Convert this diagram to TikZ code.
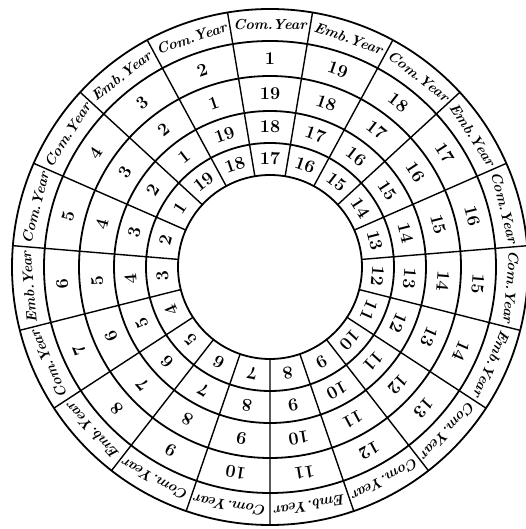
\documentclass[tikz,border=0pt]{standalone}
\usetikzlibrary{calc}

\begin{document}
\begin{tikzpicture}[
    x=1pt, y=1pt,
    ring/.style={line width=1.8pt},
    spoke/.style={line width=1.4pt},
    yearlabel/.style={font=\fontsize{14.5}{14.5}\selectfont\bfseries\itshape, inner sep=0pt},
    number/.style={font=\fontsize{18}{18}\selectfont\bfseries, inner sep=0pt}
]
\useasboundingbox (-270,-262) rectangle (256,267);
\coordinate (hub) at (0,0);
% circles of the wheel
\foreach \r in {92,124,156,191,226,258}
  \draw[ring] (hub) circle[radius=\r];
% nineteen spokes
\foreach \k in {0,...,18}
  \draw[spoke] ($(hub)+(99.47+\k*18.947:92)$) -- ($(hub)+(99.47+\k*18.947:258)$);
% years of the cycle and the four rings of numbers
\foreach \n/\kind in {1/Com,2/Com,3/Emb,4/Com,5/Com,6/Emb,7/Com,8/Emb,9/Com,10/Com,
                      11/Emb,12/Com,13/Com,14/Emb,15/Com,16/Com,17/Emb,18/Com,19/Emb} {
  \pgfmathsetmacro{\ang}{90+(\n-1)*18.947}
  \pgfmathtruncatemacro{\nb}{mod(\n+17,19)+1}
  \pgfmathtruncatemacro{\nc}{mod(\n+16,19)+1}
  \pgfmathtruncatemacro{\nd}{mod(\n+15,19)+1}
  \node[yearlabel, rotate=\ang-90] (yr\n) at ($(hub)+(\ang:242)$) {\kind.Year};
  \node[number, rotate=\ang-90] (a\n) at ($(hub)+(\ang:208.5)$) {\n};
  \node[number, rotate=\ang-90] (b\n) at ($(hub)+(\ang:173.5)$) {\nb};
  \node[number, rotate=\ang-90] (c\n) at ($(hub)+(\ang:140)$) {\nc};
  \node[number, rotate=\ang-90] (d\n) at ($(hub)+(\ang:108)$) {\nd};
}
\end{tikzpicture}
\end{document}
